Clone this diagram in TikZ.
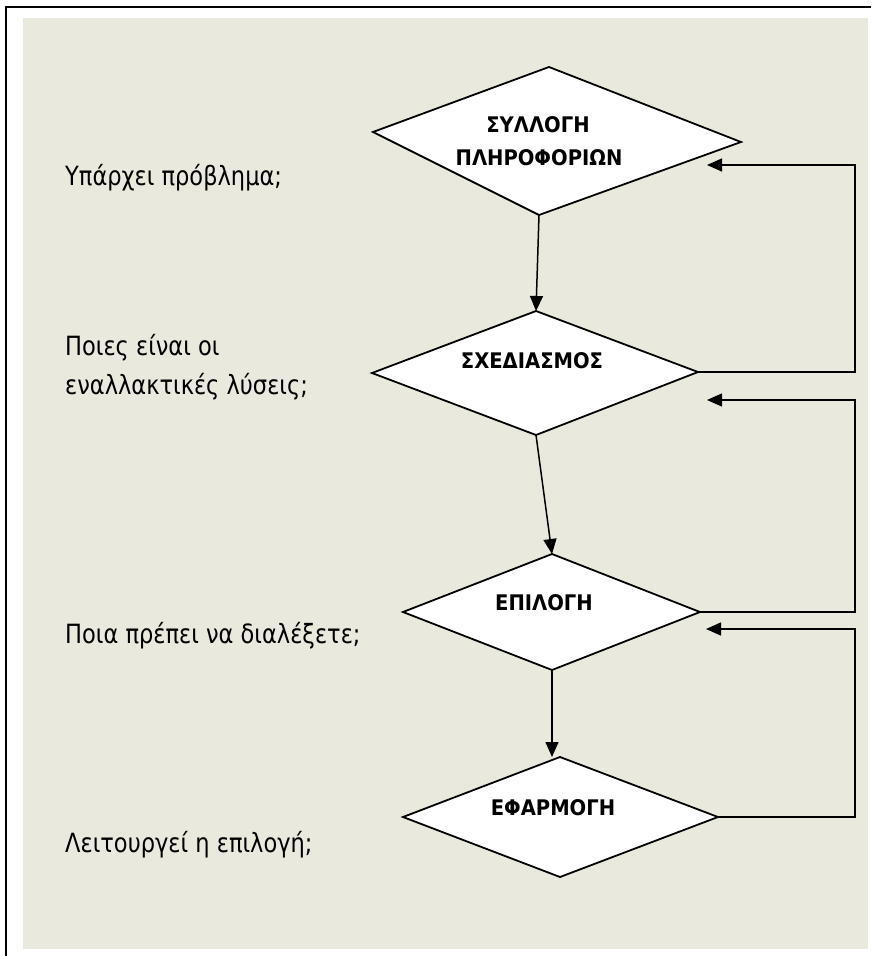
\documentclass[tikz,border=0pt]{standalone}
\usepackage{fontspec}
\setmainfont{DejaVu Sans}
\newfontfamily\lblfont{DejaVu Sans}[FakeStretch=0.85]
\newfontfamily\ttlfont{DejaVu Sans Bold}[FakeStretch=0.91]
\usetikzlibrary{arrows.meta}
\definecolor{bg}{RGB}{234,233,222}
\begin{document}
\begin{tikzpicture}[x=1pt,y=-1pt,
  box/.style={draw=black, line width=1.8pt, fill=white, line join=miter},
  conn/.style={line width=1.5pt, -{Triangle[length=15pt,width=13pt]}},
  lbl/.style={anchor=base west, font=\lblfont\fontsize{26.5}{32}\selectfont, inner sep=0pt},
  ttl/.style={anchor=base, font=\ttlfont\fontsize{21.5}{26}\selectfont, inner sep=0pt}]
\useasboundingbox (0,0) rectangle (871,956);
\fill[white] (0,0) rectangle (871,956);
\fill[bg] (23,18) rectangle (868,949);
\draw[line width=2.6pt, gray!60] (6,956) -- (6,7) -- (871,7);
\draw[line width=1.4pt] (6,956) -- (6,7) -- (871,7);

% diamond vertices
\coordinate (d1t) at (549,67);  \coordinate (d1l) at (373,132);
\coordinate (d1r) at (741,142); \coordinate (d1b) at (539,215);
\coordinate (d2t) at (536,311); \coordinate (d2l) at (372,373);
\coordinate (d2r) at (698,372); \coordinate (d2b) at (536,435);
\coordinate (d3t) at (552,554); \coordinate (d3l) at (403,612);
\coordinate (d3r) at (700,612); \coordinate (d3b) at (552,670);
\coordinate (d4t) at (560,757); \coordinate (d4l) at (403,817);
\coordinate (d4r) at (718,817); \coordinate (d4b) at (560,877);

\draw[box] (d1t) -- (d1r) -- (d1b) -- (d1l) -- cycle;
\draw[box] (d2t) -- (d2r) -- (d2b) -- (d2l) -- cycle;
\draw[box] (d3t) -- (d3r) -- (d3b) -- (d3l) -- cycle;
\draw[box] (d4t) -- (d4r) -- (d4b) -- (d4l) -- cycle;

\node[ttl] (t1a) at (538,132) {ΣΥΛΛΟΓΗ};
\node[ttl] (t1b) at (539,165) {ΠΛΗΡΟΦΟΡΙΩΝ};
\node[ttl] (t2) at (532,368) {ΣΧΕΔΙΑΣΜΟΣ};
\node[ttl] (t3) at (544,610) {ΕΠΙΛΟΓΗ};
\node[ttl] (t4) at (553,815) {ΕΦΑΡΜΟΓΗ};

% left labels
\node[lbl] (l1) at (65,185) {Υπάρχει πρόβλημα;};
\node[lbl] (l2a) at (65,355) {Ποιες είναι οι};
\node[lbl] (l2b) at (65,394) {εναλλακτικές λύσεις;};
\node[lbl] (l3) at (65,643) {Ποια πρέπει να διαλέξετε;};
\node[lbl] (l4) at (65,852) {Λειτουργεί η επιλογή;};

% downward connectors
\draw[conn] (d1b) -- (d2t);
\draw[conn] (d2b) -- (d3t);
\draw[conn] (d3b) -- (d3b |- d4t);

% feedback loops
\coordinate (rx) at (855,0);
\coordinate (in1) at (707,165);
\coordinate (in2) at (707,400);
\coordinate (in3) at (706,629);
\draw[conn] (d2r) -- (d2r -| rx) -- (rx |- in1) -- (in1);
\draw[conn] (d3r) -- (d3r -| rx) -- (rx |- in2) -- (in2);
\draw[conn] (d4r) -- (d4r -| rx) -- (rx |- in3) -- (in3);
\end{tikzpicture}
\end{document}
